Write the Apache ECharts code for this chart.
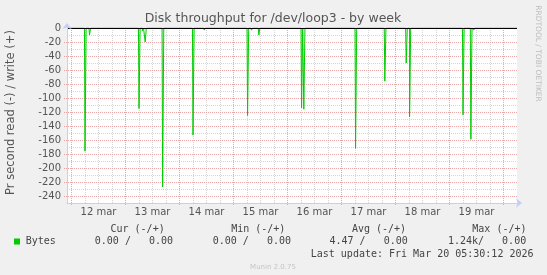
<!DOCTYPE html>
<html><head><meta charset="utf-8">
<script src="https://cdn.jsdelivr.net/npm/echarts@6/dist/echarts.min.js"></script>
<style>html,body{margin:0;padding:0;background:#f0f0f0}#c{width:547px;height:275px}</style>
</head><body><div id="c"></div>
<script>
// x values: hours since 12 Mar 2026 00:00
const sampleHours = [-2,
  5.75, 6.25, 6.75, 7.75, 8.25, 8.75,
  29.75, 30.25, 30.75, 31.25, 31.75, 32.25, 32.5, 33, 33.5,
  40.25, 40.75, 41.25,
  53.75, 54.25, 54.75, 58.75, 59.25, 59.75,
  78, 78.5, 79, 79.75, 80.25, 80.75, 83, 83.5, 84,
  102, 102.5, 103, 103.5, 104,
  126, 126.5, 127, 139, 139.5, 140,
  148.5, 149, 149.5, 150, 150.5, 151,
  173.75, 174.25, 174.75, 177.25, 177.75, 178.25, 178.5, 179, 179.5,
  198];
// read bytes per second (drawn negative)
const readValues = [0,
  0, -176, 0, 0, -10, 0,
  0, -115, 0, 0, -4, 0, 0, -20, 0,
  0, -227, 0,
  0, -153, 0, 0, -3, 0,
  0, -125, 0, 0, -3, 0, 0, -10, 0,
  0, -114, 0, -116, 0,
  0, -172, 0, 0, -76, 0,
  0, -50, 0, 0, -127, 0,
  0, -124, 0, 0, -159, 0, 0, -3, 0,
  0];
const dayLabels = ['12 mar', '13 mar', '14 mar', '15 mar', '16 mar', '17 mar', '18 mar', '19 mar'];
const dayLabelHours = [12, 36, 60, 84, 108, 132, 156, 180];
const yTickLabels = [-240, -220, -200, -180, -160, -140, -120, -100, -80, -60, -40, -20, 0];
const legendHeaders = ['Cur (-/+)', 'Min (-/+)', 'Avg (-/+)', 'Max (-/+)'];
const legendValues = ['0.00 /   0.00', '0.00 /   0.00', '4.47 /   0.00', '1.24k/   0.00'];
const seriesName = 'Bytes';
const titleText = 'Disk throughput for /dev/loop3 - by week';
const yName = 'Pr second read (-) / write (+)';
const lastUpdate = 'Last update: Fri Mar 20 05:30:12 2026';

const chart = echarts.init(document.getElementById('c'), null, {renderer: 'canvas'});
const SANS = 'DejaVu Sans';
const MONO = 'DejaVu Sans Mono';
const axisBlue = '#c6cdf7';
const redGrid = '#eaa6a6';
const grayGrid = '#d4d4d4';

const headerX = [110.5, 231.2, 351.9, 472.3];
const valueX = [94.8, 212.7, 329.5, 447.9];

const graphics = [
  {type: 'rect', z: -10, shape: {x: 67, y: 28, width: 450, height: 175}, style: {fill: '#ffffff'}},
  {type: 'text', x: 273, y: 19, style: {text: titleText, fontFamily: SANS, fontSize: 12.5, fill: '#555', align: 'center', verticalAlign: 'middle'}},
  {type: 'text', x: 11.5, y: 112.5, rotation: Math.PI / 2, style: {text: yName, fontFamily: SANS, fontSize: 11.5, fill: '#555', align: 'center', verticalAlign: 'middle'}},
  {type: 'text', x: 537.5, y: 53.5, rotation: -Math.PI / 2, style: {text: 'RRDTOOL / TOBI OETIKER', fontFamily: SANS, fontSize: 7.5, fill: '#bdbdbd', align: 'center', verticalAlign: 'middle'}},
  {type: 'rect', shape: {x: 14, y: 238.5, width: 6, height: 6}, style: {fill: '#00cc00'}},
  {type: 'text', x: 25.7, y: 241.5, style: {text: seriesName, fontFamily: MONO, fontSize: 10, fill: '#444', align: 'left', verticalAlign: 'middle'}},
  {type: 'text', x: 533.5, y: 254.3, style: {text: lastUpdate, fontFamily: MONO, fontSize: 10, fill: '#444', align: 'right', verticalAlign: 'middle'}},
  {type: 'text', x: 273, y: 267.6, style: {text: 'Munin 2.0.75', fontFamily: SANS, fontSize: 7, fill: '#c4c4c4', align: 'center', verticalAlign: 'middle'}}
];
legendHeaders.forEach((t, i) => graphics.push({type: 'text', x: headerX[i], y: 229.2, style: {text: t, fontFamily: MONO, fontSize: 10, fill: '#444', align: 'left', verticalAlign: 'middle'}}));
legendValues.forEach((t, i) => graphics.push({type: 'text', x: valueX[i], y: 241.5, style: {text: t, fontFamily: MONO, fontSize: 10, fill: '#444', align: 'left', verticalAlign: 'middle'}}));

const hidden = {axisLine: {show: false}, axisTick: {show: false}, axisLabel: {show: false}, splitLine: {show: false}};
function splitAxis(idx, min, max, interval, color, z) {
  return {gridIndex: idx, type: 'value', min: min, max: max, interval: interval, z: z,
    axisLine: {show: false}, axisTick: {show: false}, axisLabel: {show: false},
    splitLine: {show: true, showMinLine: false, showMaxLine: false, lineStyle: {color: color, type: [1, 1], width: 1}}};
}
function plainAxis(idx, min, max) {
  return Object.assign({gridIndex: idx, type: 'value', min: min, max: max}, hidden);
}

chart.setOption({
  animation: false,
  backgroundColor: '#f0f0f0',
  graphic: graphics,
  grid: [
    {left: 67, top: 28, width: 450, height: 175, show: false},      // data
    {left: 58, top: 28, width: 459, height: 175, show: false},      // gray 6h verticals
    {left: 64, top: 28, width: 454, height: 182, show: false},      // red horizontals (every 20)
    {left: 17.5, top: 28, width: 499.5, height: 178, show: false},  // red midnight verticals
    {left: 67, top: 21, width: 450, height: 182, show: false}       // gray horizontals (odd tens)
  ],
  xAxis: [
    {
      gridIndex: 0, type: 'value', min: -2, max: 198, z: 5,
      splitLine: {show: false},
      axisLine: {show: true, onZero: false, lineStyle: {color: axisBlue, width: 1}, symbol: ['none', 'arrow'], symbolSize: [7, 6], symbolOffset: [0, 5]},
      axisTick: {show: false},
      axisLabel: {customValues: dayLabelHours, formatter: v => dayLabels[dayLabelHours.indexOf(v)] || '', fontFamily: SANS, fontSize: 10, color: '#555', margin: 4}
    },
    splitAxis(1, -6, 198, 6, grayGrid, 0),
    plainAxis(2, -2, 198),
    splitAxis(3, -24, 198, 24, redGrid, 1),
    plainAxis(4, -2, 198)
  ],
  yAxis: [
    {
      gridIndex: 0, type: 'value', min: -250, max: 0, interval: 10, z: 5,
      splitLine: {show: false},
      axisLine: {show: true, onZero: false, lineStyle: {color: axisBlue, width: 1}, symbol: ['none', 'arrow'], symbolSize: [7, 6], symbolOffset: [0, 5]},
      axisTick: {show: false},
      axisLabel: {customValues: yTickLabels, fontFamily: SANS, fontSize: 10, color: '#555', margin: 6}
    },
    plainAxis(1, -250, 0),
    splitAxis(2, -260, 0, 20, redGrid, 1),
    plainAxis(3, -250, 0),
    splitAxis(4, -260, 0, 20, grayGrid, 0)
  ],
  series: [
    {
      name: seriesName, type: 'line', z: 3, xAxisIndex: 0, yAxisIndex: 0,
      data: sampleHours.map((h, i) => [h, readValues[i]]),
      step: 'middle',
      showSymbol: false, symbol: 'none', smooth: false,
      lineStyle: {color: '#00cc00', width: 1},
      itemStyle: {color: '#00cc00'},
      markLine: {
        silent: true, symbol: 'none', animation: false, label: {show: false},
        lineStyle: {color: '#000000', type: 'solid', width: 1},
        emphasis: {disabled: true},
        data: [{yAxis: 0}]
      }
    }
  ]
});
</script>
</body></html>
